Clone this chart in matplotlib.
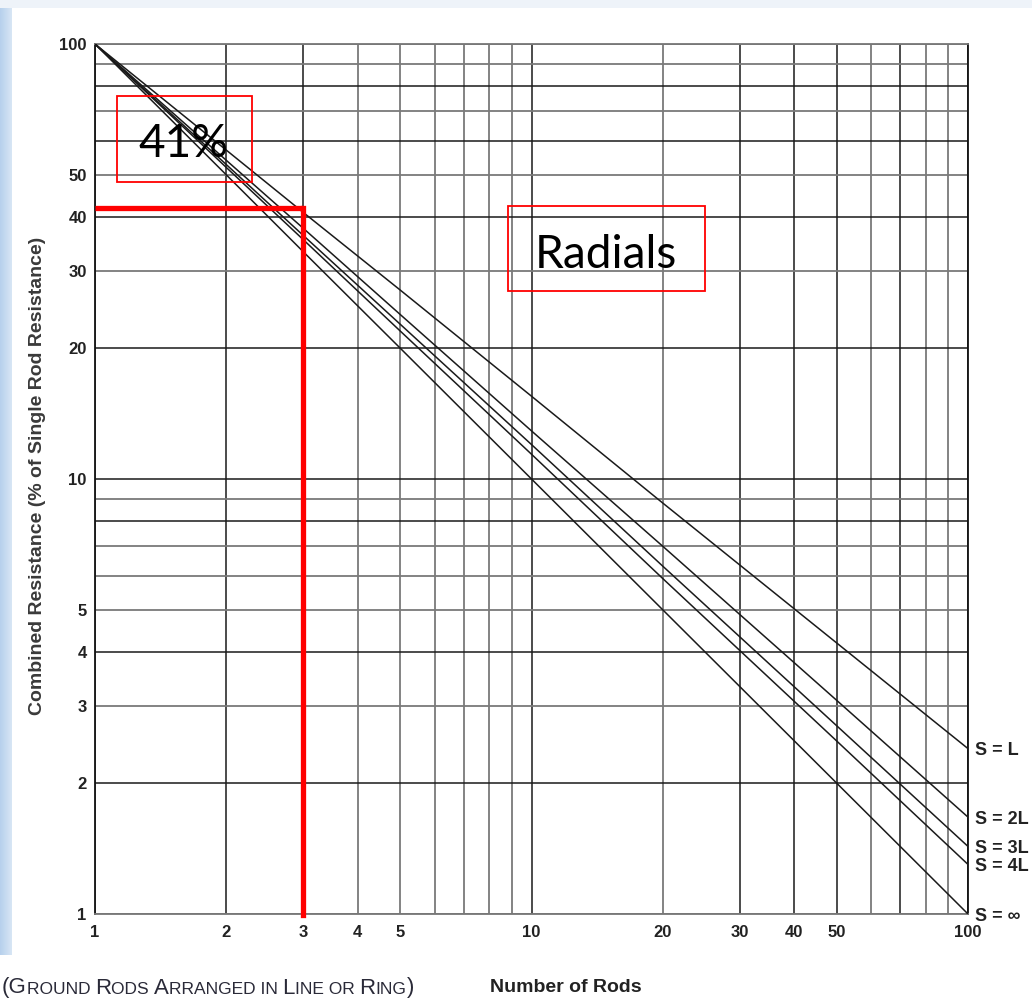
import matplotlib
matplotlib.use('Agg')
import matplotlib.pyplot as plt
from matplotlib.patches import Rectangle
from matplotlib.offsetbox import TextArea, HPacker, AnnotationBbox
import numpy as np

# ---------------- data ----------------
n_rods = [1, 2, 3, 5, 10, 20, 50, 100]
s_L = [100, 57.0, 41.0, 27.2, 15.5, 8.8, 4.2, 2.4]
s_2L = [100, 54.0, 37.7, 23.9, 12.9, 7.0, 3.1, 1.67]
s_3L = [100, 52.8, 36.3, 22.7, 12.0, 6.3, 2.71, 1.43]
s_4L = [100, 52.0, 35.5, 21.9, 11.4, 5.9, 2.5, 1.30]
s_inf = [100, 50.0, 33.3, 20.0, 10.0, 5.0, 2.0, 1.0]
series = [s_L, s_2L, s_3L, s_4L, s_inf]
series_labels = ['S = L', 'S = 2L', 'S = 3L', 'S = 4L', 'S = ∞']

x_tick_labels = [1, 2, 3, 4, 5, 10, 20, 30, 40, 50, 100]
y_tick_labels = [1, 2, 3, 4, 5, 10, 20, 30, 40, 50, 100]
grid_values = [1, 2, 3, 4, 5, 6, 7, 8, 9, 10, 20, 30, 40, 50, 60, 70, 80, 90, 100]

selected_rods = 3
selected_pct = 42

# ---------------- figure ----------------
W, H = 1032, 1008
fig = plt.figure(figsize=(W / 100, H / 100), dpi=100)
fig.patch.set_facecolor('white')

def fx(px):
    return px / W

def fy(py):
    return 1 - py / H

# background strips (slide frame)
fig.add_artist(Rectangle((0, fy(8)), 1, 8 / H, transform=fig.transFigure,
                         facecolor='#eef3f9', edgecolor='none', zorder=0))
grad = np.linspace(0, 1, 64).reshape(1, -1)
bg_ax = fig.add_axes([0, fy(955), fx(12), 955 / H], zorder=-1)
bg_ax.imshow(grad, aspect='auto', cmap=matplotlib.colors.LinearSegmentedColormap.from_list(
    'b', ['#b6d0ec', '#d8e6f5']), extent=[0, 1, 0, 1])
bg_ax.axis('off')

NARROW = ['Liberation Sans Narrow', 'Liberation Sans', 'DejaVu Sans']

ax = fig.add_axes([fx(95), fy(914), 873 / W, 870 / H])
ax.set_xscale('log')
ax.set_yscale('log')
ax.set_xlim(1, 100)
ax.set_ylim(1, 100)

minor_vals = [v for v in grid_values if v not in x_tick_labels]
ax.set_xticks(x_tick_labels)
ax.set_xticks(minor_vals, minor=True)
ax.set_xticklabels([str(v) for v in x_tick_labels])
ax.set_xticklabels([], minor=True)
minor_y = [v for v in grid_values if v not in y_tick_labels]
ax.set_yticks(y_tick_labels)
ax.set_yticks(minor_y, minor=True)
ax.set_yticklabels([str(v) for v in y_tick_labels])
ax.set_yticklabels([], minor=True)

ax.tick_params(which='both', length=0)
ax.tick_params(axis='y', pad=6)
ax.tick_params(axis='x', pad=8)
for lab in ax.get_xticklabels() + ax.get_yticklabels():
    lab.set_family(NARROW)
    lab.set_fontweight('bold')
    lab.set_fontsize(12)
    lab.set_color('#222222')

ax.grid(True, which='both', color='#7a7a7a', linewidth=1.3)
ax.set_axisbelow(True)

# darker grid lines (as in the scanned chart)
dark_x = [2, 3, 10, 30, 40, 50, 70, 100]
dark_y = [80, 60, 40, 20, 10, 8, 4, 2]
for tick in ax.xaxis.get_major_ticks() + ax.xaxis.get_minor_ticks():
    if tick.get_loc() in dark_x:
        tick.gridline.set_color('#1a1a1a')
        tick.gridline.set_linewidth(1.1)
for tick in ax.yaxis.get_major_ticks() + ax.yaxis.get_minor_ticks():
    if tick.get_loc() in dark_y:
        tick.gridline.set_color('#1a1a1a')
        tick.gridline.set_linewidth(1.1)

for side, c in [('left', '#111111'), ('right', '#111111'), ('top', '#777777'), ('bottom', '#777777')]:
    ax.spines[side].set_color(c)
    ax.spines[side].set_linewidth(1.3)

# curves
for vals in series:
    ax.plot(n_rods, vals, color='#1a1a1a', linewidth=1.1, zorder=3)

# right-side labels
for vals, lab in zip(series, series_labels):
    ax.annotate(lab, xy=(n_rods[-1], vals[-1]), xytext=(5, -1.5), textcoords='offset points',
                ha='left', va='center', fontsize=13, fontweight='bold',
                family=NARROW, color='#222222', annotation_clip=False)

# red highlight lines
ax.plot([1, selected_rods], [selected_pct, selected_pct], color='#ff0000', linewidth=3.8,
        solid_capstyle='butt', zorder=5, clip_on=False)
ax.plot([selected_rods, selected_rods], [0.995, selected_pct], color='#ff0000', linewidth=3.8,
        solid_capstyle='projecting', zorder=5, clip_on=False)

# red boxes with text
def red_box(x0, y0, x1, y1):
    fig.add_artist(Rectangle((fx(x0), fy(y1)), (x1 - x0) / W, (y1 - y0) / H,
                             transform=fig.transFigure, facecolor='none',
                             edgecolor='#ff0000', linewidth=1.3, zorder=10))

red_box(117, 96, 252, 182)
fig.text(fx(183), fy(157), '41%', ha='center', va='baseline', fontsize=33,
         family=['Lato', 'DejaVu Sans'], color='black', zorder=11)
red_box(508, 206, 705, 291)
fig.text(fx(606), fy(268), 'Radials', ha='center', va='baseline', fontsize=33,
         family=['Lato', 'DejaVu Sans'], color='black', zorder=11)

# axis labels
fig.text(fx(38), fy(476), 'Combined Resistance (% of Single Rod Resistance)', rotation=90,
         ha='center', va='center', fontsize=14, fontweight='bold',
         family=['Liberation Sans', 'DejaVu Sans'], color='#3a3a3a')
fig.text(fx(566), fy(987), 'Number of Rods', ha='center', va='center', fontsize=14,
         fontweight='bold', family=['Liberation Sans', 'DejaVu Sans'], color='#222222')

# small-caps note
pieces = [('(G', 16), ('ROUND ', 12.5), ('R', 16), ('ODS ', 12.5), ('A', 16),
          ('RRANGED IN ', 12.5), ('L', 16), ('INE OR ', 12.5), ('R', 16), ('ING', 12.5),
          (')', 16)]
areas = [TextArea(t, textprops=dict(fontsize=s, family=['Liberation Sans', 'DejaVu Sans'],
                                    color='#2a2a38')) for t, s in pieces]
pack = HPacker(children=areas, align='baseline', pad=0, sep=0)
ab = AnnotationBbox(pack, (fx(2), fy(988)), xycoords='figure fraction', box_alignment=(0, 0.5),
                    frameon=False)
fig.add_artist(ab)

fig.savefig('out.png', dpi=100, facecolor=fig.get_facecolor())
